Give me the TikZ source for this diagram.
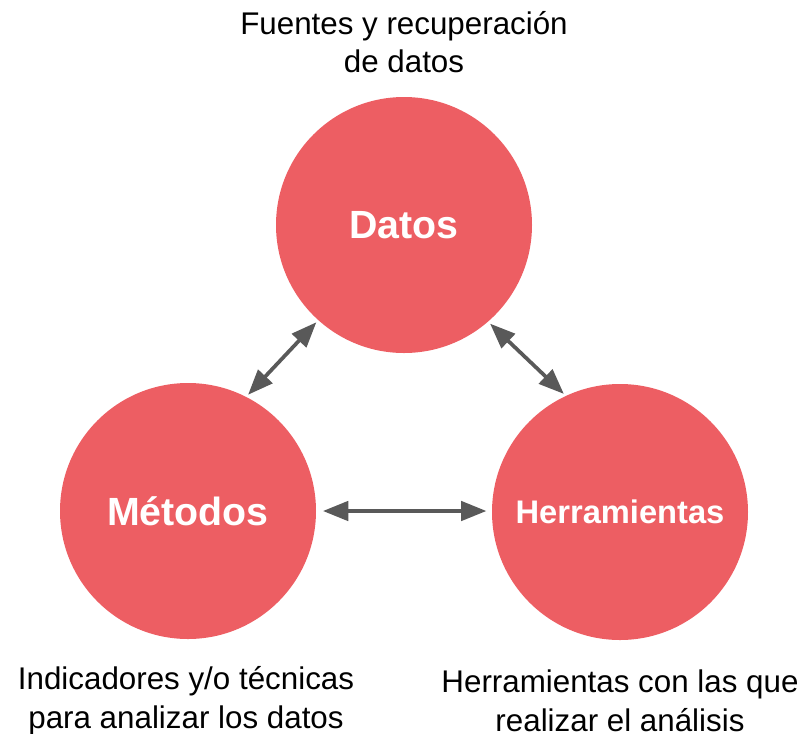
\documentclass[tikz,border=0pt]{standalone}
\usepackage{fontspec}
\setmainfont{Liberation Sans}
\usepackage{tikz}
\usetikzlibrary{arrows.meta}
\usepackage{xcolor}
\definecolor{circred}{RGB}{237,94,99}
\definecolor{arrowgray}{RGB}{89,89,89}

\begin{document}
\begin{tikzpicture}[x=0.75pt,y=-0.75pt]
		\tikzset{
			area/.style = {circle,fill=circred,minimum size=192pt,inner sep=0pt,text=white,font=\bfseries\fontsize{29.5}{34}\selectfont},
			note/.style = {align=center,font=\fontsize{23.5}{29}\selectfont},
			link/.style = {{Triangle[length=19pt,width=14.5pt]}-{Triangle[length=19pt,width=14.5pt]},line width=2.8pt,draw=arrowgray,shorten <=2pt,shorten >=2pt}
		}
		\useasboundingbox (0,0) rectangle (804,733);
		% the three circles
		\node [area] (datos) at (404,225) {Datos};
		\node [area] (metodos) at (188,511) {Métodos};
		\node [area,font=\bfseries\fontsize{24.5}{28}\selectfont] (herramientas) at (620,512) {Herramientas};
		% descriptions
		\node [note] (fuentes) at (404,42) {Fuentes y recuperación\\de datos};
		\node [note] (indicadores) at (186,701) {Indicadores y/o técnicas\\para analizar los datos};
		\node [note] (analisis) at (620,701) {Herramientas con las que\\realizar el análisis};
		% links
		\draw [link] (metodos.63.8) -- (datos.228.4);
		\draw [link] (datos.311.3) -- (herramientas.115.7);
		\draw [link,shorten <=5pt,shorten >=4pt] (metodos.east) -- (metodos.east -| herramientas.west);
\end{tikzpicture}
\end{document}
